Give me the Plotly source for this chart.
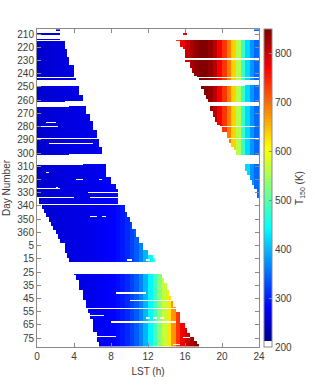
import numpy as np
import plotly.graph_objects as go

# ---------------- data ----------------
# T150 (K) profile per 0.5 h LST bin (bin start 0.0, 0.5, ... 23.5)
lst_bin_start = [i * 0.5 for i in range(48)]
t150_profile = [250, 252, 254, 256, 258, 260, 262, 263, 264, 265,
                266, 268, 270, 273, 276, 279, 282, 288, 296, 308,
                322, 340, 365, 398, 440, 485, 530, 570, 620, 675,
                735, 775, 805, 820, 840, 848, 848, 835, 812, 775,
                735, 690, 635, 560, 480, 420, 378, 348]

# day axis (continuous day count; 365 + n for the following year)
day_first, day_last = 207, 446
ytick_vals = [210, 220, 230, 240, 250, 260, 270, 280, 290, 300, 310, 320,
              330, 340, 350, 360, 370, 380, 390, 400, 410, 420, 430, 440]
ytick_text = ["210", "220", "230", "240", "250", "260", "270", "280", "290",
              "300", "310", "320", "330", "340", "350", "360", "5", "15",
              "25", "35", "45", "55", "65", "75"]
xtick_vals = [0, 4, 8, 12, 16, 20, 24]

# morning swath: (first day, last day, LST end)
morning_end = [(207, 207, 2.5), (210, 210, 2.6), (214, 214, 2.6), (216, 221, 2.95),
               (222, 227, 3.3), (228, 233, 3.6), (234, 242, 4.0), (244, 244, 4.3),
               (250, 256, 4.6), (257, 260, 5.0), (261, 261, 2.9), (265, 270, 5.33),
               (271, 275, 5.7), (276, 282, 6.05), (283, 288, 6.4), (290, 295, 6.7),
               (296, 300, 7.0), (301, 301, 3.6), (309, 313, 7.4), (314, 318, 7.6),
               (319, 323, 8.0), (324, 327, 8.4), (328, 338, 8.7), (340, 344, 9.4),
               (345, 348, 9.7), (349, 352, 10.0), (353, 357, 10.3), (358, 363, 10.7),
               (364, 368, 11.1), (369, 373, 11.5), (374, 377, 11.9), (378, 379, 12.4),
               (380, 382, 12.8), (392, 394, 13.4), (395, 398, 13.65), (399, 403, 13.9),
               (404, 408, 14.2), (409, 412, 14.45), (413, 416, 14.7), (417, 420, 15.0),
               (421, 424, 15.4), (425, 428, 15.6), (429, 432, 15.9), (433, 436, 16.2),
               (437, 439, 16.45), (440, 442, 16.9), (443, 444, 17.2), (445, 446, 17.4)]
# morning swath start (LST 0 where not listed)
morning_start = [(207, 207, 2.0), (265, 265, 3.6), (309, 309, 5.0), (335, 338, 0.3),
                 (340, 342, 0.6), (343, 345, 0.8), (346, 348, 1.1), (349, 352, 1.3),
                 (353, 355, 1.5), (356, 358, 1.8), (359, 361, 2.1), (362, 365, 2.35),
                 (366, 368, 2.6), (369, 371, 2.9), (372, 375, 3.1), (376, 379, 3.3),
                 (380, 382, 3.4), (392, 392, 4.0), (393, 396, 4.25), (397, 399, 4.4),
                 (400, 403, 4.6), (404, 408, 4.9), (409, 411, 5.1), (412, 417, 5.3),
                 (418, 421, 5.6), (422, 425, 5.75), (426, 431, 5.95), (432, 435, 6.1),
                 (436, 439, 6.4), (440, 443, 6.55), (444, 446, 6.75)]
# evening swath: (first day, last day, LST start) running to 24 h
evening_start = [(207, 207, 23.4), (210, 210, 15.7), (215, 215, 15.1), (216, 219, 15.4),
                 (220, 221, 15.7), (222, 224, 15.9), (225, 228, 16.1), (230, 231, 16.1),
                 (232, 235, 16.45), (236, 239, 16.7), (240, 241, 16.9), (242, 242, 17.2),
                 (244, 244, 17.4), (249, 249, 22.5), (250, 251, 17.8), (252, 253, 17.95),
                 (254, 256, 18.1), (257, 259, 18.3), (260, 261, 18.45), (265, 268, 18.8),
                 (269, 272, 19.05), (273, 276, 19.3), (277, 278, 19.55), (279, 279, 19.8),
                 (281, 284, 20.1), (285, 288, 20.4), (290, 292, 20.75), (293, 295, 21.0),
                 (296, 297, 21.2), (298, 299, 21.4), (300, 301, 21.55), (309, 313, 22.5),
                 (314, 316, 22.8), (317, 320, 23.05), (321, 324, 23.3), (325, 327, 23.5),
                 (328, 329, 23.7), (330, 334, 23.85)]
# missing pieces inside swaths: (day, LST from, LST to)
gaps = [(210, 16.2, 24), (277, 1.0, 2.0), (280, 0, 2.35), (293, 1.35, 6.0),
        (315, 0.9, 1.3), (320, 4.3, 5.0), (320, 6.65, 7.0), (326, 2.0, 2.35),
        (327, 0, 2.6), (330, 5.4, 8.7), (334, 0, 3.9), (334, 5.8, 8.7),
        (348, 5.7, 6.5), (348, 7.0, 7.6), (381, 9.7, 10.3), (381, 11.75, 12.2),
        (406, 8.5, 11.7), (412, 10.1, 14.5), (418, 0, 24), (423, 5.75, 7.3),
        (425, 11.75, 12.2), (425, 12.5, 13.0), (425, 13.25, 13.75), (428, 8.0, 15.0),
        (439, 6.4, 8.45), (440, 15.7, 16.4), (445, 14.7, 15.4)]

# ---------------- grid ----------------
cell = 0.25
centers = [(j + 0.5) * cell for j in range(int(24 / cell))]
days = list(range(day_first, day_last + 1))


def lookup(segs, d, default):
    for d0, d1, v in segs:
        if d0 <= d <= d1:
            return v
    return default


z = []
for d in days:
    row = [None] * len(centers)
    me = lookup(morning_end, d, None)
    if me is not None:
        ms = lookup(morning_start, d, 0.0)
        for j, c in enumerate(centers):
            if ms <= c < me:
                row[j] = t150_profile[int(c // 0.5)]
    es = lookup(evening_start, d, None)
    if es is not None:
        for j, c in enumerate(centers):
            if c >= es:
                row[j] = t150_profile[int(c // 0.5)]
    for gd, g0, g1 in gaps:
        if gd == d:
            for j, c in enumerate(centers):
                if g0 <= c < g1:
                    row[j] = None
    z.append(row)

colorscale = [[0.0, "rgb(255,255,255)"], [0.02, "rgb(255,255,255)"],
              [0.02, "rgb(0,0,148)"], [0.125, "rgb(0,0,255)"],
              [0.375, "rgb(0,255,255)"], [0.625, "rgb(255,255,0)"],
              [0.875, "rgb(255,0,0)"], [1.0, "rgb(128,0,0)"]]

font = dict(family="Liberation Sans, Arial, sans-serif", size=10, color="#3a3a3a")
axcol = "#8a8a8a"

fig = go.Figure(go.Heatmap(
    x=centers, y=days, z=z, zmin=200, zmax=850, colorscale=colorscale,
    hoverinfo="skip",
    colorbar=dict(x=1.022, xanchor="left", xref="paper", y=0.5, yanchor="middle",
                  len=1.0, lenmode="fraction", thickness=8, ypad=0, xpad=0,
                  outlinewidth=1, outlinecolor=axcol,
                  tickvals=[200, 300, 400, 500, 600, 700, 800],
                  ticks="inside", ticklen=3, tickcolor=axcol,
                  tickfont=font,
                  title=dict(text="T<sub>150</sub> (K)", side="right", font=font)),
))

fig.update_layout(
    width=315, height=390,
    margin=dict(l=37, r=56, t=29, b=43, autoexpand=False),
    paper_bgcolor="white", plot_bgcolor="white",
    font=font, showlegend=False,
)
fig.update_xaxes(range=[0, 24], tickvals=xtick_vals, ticks="inside", ticklen=4,
                 tickcolor=axcol, showline=True, linecolor=axcol, linewidth=1,
                 mirror="ticks", showgrid=False, zeroline=False, automargin=False,
                 title=dict(text="LST (h)", font=font, standoff=6))
fig.update_yaxes(range=[446.7, 206.2], tickvals=ytick_vals, ticktext=ytick_text,
                 ticks="inside", ticklen=4, tickcolor=axcol, showline=True,
                 linecolor=axcol, linewidth=1, mirror="ticks", showgrid=False,
                 zeroline=False, automargin=False,
                 title=dict(text="Day Number", font=font, standoff=4))

fig.write_html("out.html", config={"displayModeBar": False},
               post_script="document.body.style.margin='0';document.body.style.padding='0';")
